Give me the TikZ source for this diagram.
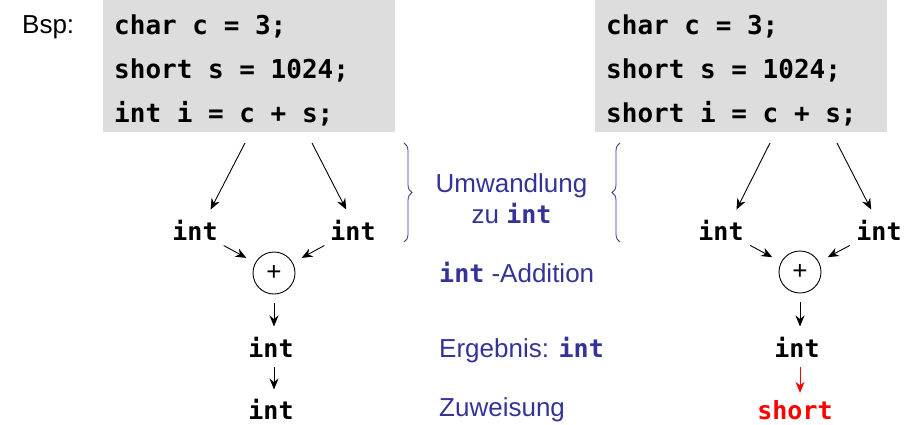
\documentclass[tikz,border=0pt]{standalone}
\usepackage{fontspec}
\setmainfont{Liberation Sans}
\newfontfamily\codefont{DejaVu Sans Mono}
\usetikzlibrary{arrows.meta,decorations.pathreplacing}
\definecolor{codebg}{RGB}{221,221,221}
\definecolor{expl}{RGB}{51,51,153}
\definecolor{hot}{RGB}{255,0,0}
\tikzset{
  codebox/.style={fill=codebg, draw=none, minimum width=292pt, minimum height=132pt, inner sep=0pt},
  codeline/.style={anchor=base west, inner sep=0pt, font=\codefont\bfseries\fontsize{26}{30}\selectfont},
  typ/.style={inner sep=1pt, font=\codefont\bfseries\fontsize{25}{29}\selectfont},
  opc/.style={circle, draw, line width=0.9pt, minimum size=42pt, inner sep=0pt, font=\fontsize{26}{30}\selectfont},
  arr/.style={draw, line width=0.9pt, -{Stealth[length=11pt,width=9pt]}},
  expltext/.style={anchor=base west, inner sep=0pt, text=expl, font=\fontsize{26}{30}\selectfont},
  brc/.style={draw=expl, line width=0.8pt, decorate, decoration={brace, amplitude=8pt}},
  lbl/.style={anchor=base west, inner sep=0pt, font=\fontsize{26}{30}\selectfont}
}
\newcommand{\cint}[1]{{\codefont\bfseries\fontsize{25}{30}\selectfont #1}}
\begin{document}
\begin{tikzpicture}[x=1pt,y=-1pt]
\useasboundingbox (0,0) rectangle (917,424);
% labels
\node[lbl] (bsp) at (22,33) {Bsp:};
% left code box
\node[codebox] (codeL) at (249,66) {};
\node[codeline] (cl1) at (114,34) {char c = 3;};
\node[codeline] (cl2) at (114,78) {short s = 1024;};
\node[codeline] (cl3) at (114,122) {int i = c + s;};
% right code box
\node[codebox] (codeR) at (741,66) {};
\node[codeline] (cr1) at (606,34) {char c = 3;};
\node[codeline] (cr2) at (606,78) {short s = 1024;};
\node[codeline] (cr3) at (606,122) {short i = c + s;};

% left tree
\coordinate (sL1) at (245,143);
\coordinate (sL2) at (312,143);
\node[typ, anchor=base] (iLa) at (195,240) {int};
\node[typ, anchor=base] (iLb) at (353,240) {int};
\node[opc] (pL) at (274,273) {+};
\node[typ, anchor=base] (iLm) at (271,357) {int};
\node[typ, anchor=base] (iLr) at (271,419) {int};
\draw[arr, shorten >=10pt] (sL1) -- (iLa.46);
\draw[arr, shorten >=10pt] (sL2) -- (iLb.101);
\draw[arr, shorten <=9pt, shorten >=10pt] (iLa) -- (pL);
\draw[arr, shorten <=9pt, shorten >=10pt] (iLb) -- (pL);
\draw[arr, shorten <=9pt, shorten >=9pt] (pL.south) -- (pL.south |- iLm.north);
\draw[arr, shorten <=9pt, shorten >=8pt] (pL.south |- iLm.south) -- (pL.south |- iLr.north);

% right tree
\coordinate (sR1) at (770,143);
\coordinate (sR2) at (837,143);
\node[typ, anchor=base] (iRa) at (721,240) {int};
\node[typ, anchor=base] (iRb) at (879,240) {int};
\node[opc] (pR) at (800,272) {+};
\node[typ, anchor=base] (iRm) at (797,357) {int};
\node[typ, anchor=base, text=hot] (iRr) at (795,419) {short};
\draw[arr, shorten >=10pt] (sR1) -- (iRa.46);
\draw[arr, shorten >=10pt] (sR2) -- (iRb.106);
\draw[arr, shorten <=9pt, shorten >=10pt] (iRa) -- (pR);
\draw[arr, shorten <=9pt, shorten >=10pt] (iRb) -- (pR);
\draw[arr, shorten <=9pt, shorten >=9pt] (pR.south) -- (pR.south |- iRm.north);
\draw[arr, draw=hot, shorten <=9pt, shorten >=6pt] (pR.south |- iRm.south) -- (pR.south |- iRr.north);

% braces
\coordinate (bLt) at (404,143);
\coordinate (bLb) at (404,242);
\coordinate (bRt) at (620,143);
\coordinate (bRb) at (620,242);
\draw[brc] (bLt) -- (bLb);
\draw[brc] (bRb) -- (bRt);

% explanations
\node[text=expl, inner sep=0pt, anchor=base, font=\fontsize{26}{30}\selectfont] (e1) at (511.5,192) {Umwandlung};
\node[text=expl, inner sep=0pt, anchor=base, font=\fontsize{26}{30}\selectfont] (e2) at (511.5,223) {zu \cint{int}};
\node[expltext] (e3) at (439,282) {\cint{int} -Addition};
\node[expltext] (e4) at (439,357) {Ergebnis: \cint{int}};
\node[expltext] (e5) at (439,416) {Zuweisung};
\end{tikzpicture}
\end{document}
